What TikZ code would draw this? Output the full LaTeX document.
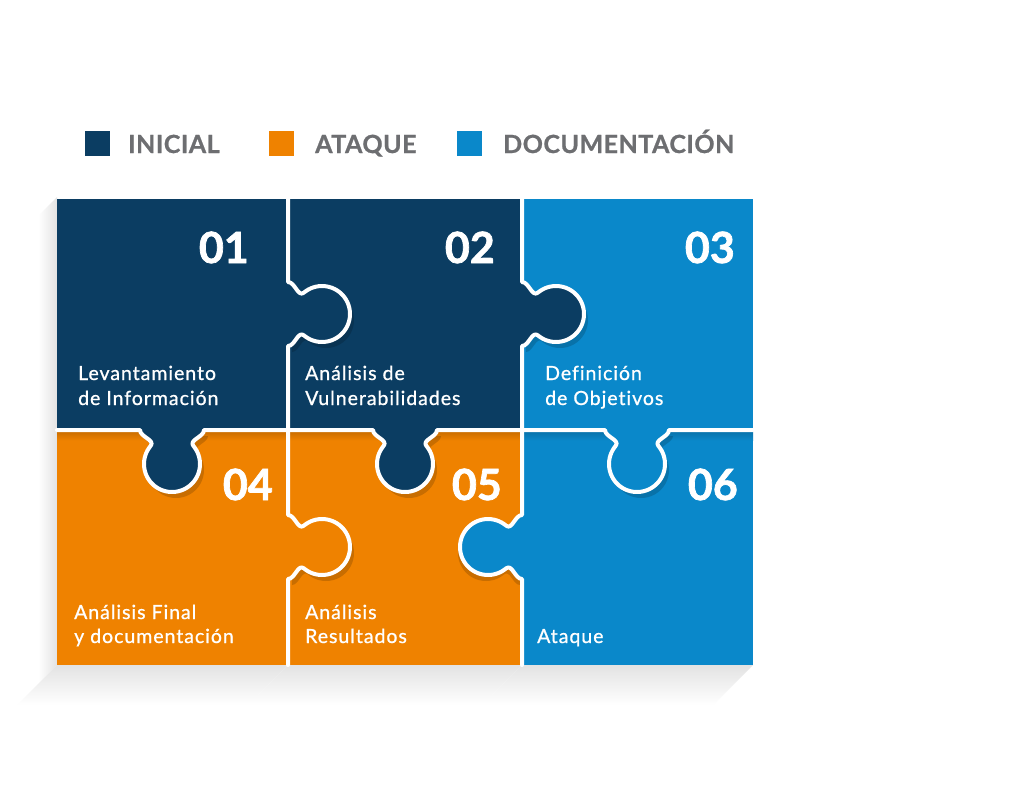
\documentclass[tikz,border=0pt]{standalone}
\usepackage{fontspec}
\setmainfont{Lato}
\newfontfamily\labfont{Lato}[FakeBold=0.9,LetterSpace=5,Ligatures={NoCommon,NoDiscretionary,NoRare}]
\newfontfamily\numfont{Lato}[BoldFeatures={FakeBold=1.6}]
\newfontfamily\legfont{Lato}[BoldFeatures={FakeBold=0.8,LetterSpace=2}]
\definecolor{navy}{HTML}{0B3D62}
\definecolor{orng}{HTML}{EF8200}
\definecolor{sky}{HTML}{0A88CA}
\definecolor{legendgray}{HTML}{6D6E71}
% knob on a vertical boundary x=#1, centred at y=#2, pointing right (#3=1) or left (#3=-1)
\newcommand\knobV[3]{-- ({#1},{#2-32}) .. controls ({#1+#3*7},{#2-32}) and ({#1+#3*10},{#2-16.3}) .. ({#1+#3*16},{#2-21.4}) -- plot[domain=-130:130,samples=48,variable=\t]({#1+#3*(34+28*cos(\t))},{#2+28*sin(\t)}) .. controls ({#1+#3*10},{#2+16.3}) and ({#1+#3*7},{#2+32}) .. ({#1},{#2+32})}
% knob on a horizontal boundary y=#1, centred at x=#2, pointing down (#3=1)
\newcommand\knobH[3]{-- ({#2-32},{#1}) .. controls ({#2-32},{#1+#3*7}) and ({#2-16.3},{#1+#3*10}) .. ({#2-21.4},{#1+#3*16}) -- plot[domain=-130:130,samples=48,variable=\t]({#2+28*sin(\t)},{#1+#3*(34+28*cos(\t))}) .. controls ({#2+16.3},{#1+#3*10}) and ({#2+32},{#1+#3*7}) .. ({#2+32},{#1})}
\begin{document}
\begin{tikzpicture}[x=1pt,y=-1pt,
  sep/.style={draw=white,line width=4pt,line join=round,line cap=round},
  knobshadow/.style={fill=black,fill opacity=0.16},
  numtext/.style={anchor=base east,text=white,font=\fontsize{43}{43}\numfont\bfseries,inner sep=0pt},
  labtext/.style={anchor=base west,text=white,font=\fontsize{19.5}{19.5}\labfont,inner sep=0pt},
  legsq/.style={minimum size=25pt,inner sep=0pt,outer sep=0pt},
  legtext/.style={anchor=base west,text=legendgray,font=\fontsize{25}{25}\legfont\bfseries,inner sep=0pt}]
\useasboundingbox[fill=white] (0,0) rectangle (1024,798);
% --- soft shadows
\shade[left color=white,right color=black!11] (38,216) -- (57,197) -- (57,665) -- (38,684) -- cycle;
\foreach \a/\b in {57/288,288/522,522/753}{
  \shade[top color=black!11,bottom color=white] (\a,665) -- (\b,665) -- (\b-40,705) -- (\a-40,705) -- cycle;
}
% --- cells
\fill[navy] (57,199) rectangle (288,430);
\fill[navy] (288,199) rectangle (522,430);
\fill[sky]  (522,199) rectangle (753,430);
\fill[orng] (57,440) rectangle (288,665);
\fill[orng] (288,440) rectangle (522,665);
\fill[sky]  (522,440) rectangle (753,665);
% --- shadow of the top row onto the bottom row
\shade[top color=orng!82!black,bottom color=orng] (57,430) rectangle (522,440.5);
\shade[top color=sky!82!black,bottom color=sky] (522,430) rectangle (753,440.5);
% --- knob shadows
\begin{scope}[shift={(4,6)}]
\fill[knobshadow] (288,282) \knobV{288}{314}{1} -- cycle;
\fill[knobshadow] (522,282) \knobV{522}{314}{1} -- cycle;
\fill[knobshadow] (288,515) \knobV{288}{547}{1} -- cycle;
\fill[knobshadow] (140,430) \knobH{430}{172}{1} -- cycle;
\fill[knobshadow] (373,430) \knobH{430}{405}{1} -- cycle;
\fill[knobshadow] (605,430) \knobH{430}{637}{1} -- cycle;
\end{scope}
\begin{scope}[shift={(-2,6)}]
\fill[knobshadow] (522,515) \knobV{522}{547}{-1} -- cycle;
\end{scope}
% --- knobs
\fill[navy] (288,282) \knobV{288}{314}{1} -- cycle;
\fill[navy] (522,282) \knobV{522}{314}{1} -- cycle;
\fill[orng] (288,515) \knobV{288}{547}{1} -- cycle;
\fill[sky]  (522,515) \knobV{522}{547}{-1} -- cycle;
\fill[navy] (140,430) \knobH{430}{172}{1} -- cycle;
\fill[navy] (373,430) \knobH{430}{405}{1} -- cycle;
\fill[sky]  (605,430) \knobH{430}{637}{1} -- cycle;
% --- separators
\path[sep] (57,430) \knobH{430}{172}{1} -- (288,430) \knobH{430}{405}{1} -- (522,430) \knobH{430}{637}{1} -- (753,430);
\path[sep] (288,199) \knobV{288}{314}{1} -- (288,430);
\path[sep] (522,199) \knobV{522}{314}{1} -- (522,430);
\path[sep] (288,430) \knobV{288}{547}{1} -- (288,665);
\path[sep] (522,430) \knobV{522}{547}{-1} -- (522,665);
% --- numbers
\node[numtext] (n1) at (249,263) {01};
\node[numtext] (n2) at (495,263) {02};
\node[numtext] (n3) at (735,263) {03};
\node[numtext] (n4) at (273,500) {04};
\node[numtext] (n5) at (502,500) {05};
\node[numtext] (n6) at (738,500) {06};
% --- labels
\node[labtext] (l1a) at (78,380) {Levantamiento};
\node[labtext] (l1b) at (78,405) {de Información};
\node[labtext] (l2a) at (305,380) {Análisis de};
\node[labtext] (l2b) at (305,405) {Vulnerabilidades};
\node[labtext] (l3a) at (545,380) {Definición};
\node[labtext] (l3b) at (545,405) {de Objetivos};
\node[labtext] (l4a) at (74,619) {Análisis Final};
\node[labtext] (l4b) at (74,643) {y documentación};
\node[labtext] (l5a) at (305,619) {Análisis};
\node[labtext] (l5b) at (305,643) {Resultados};
\node[labtext] (l6a) at (537,643) {Ataque};
% --- legend
\node[legsq,fill=navy] (s1) at (97.5,143.5) {};
\node[legtext] (t1) at (128,153) {INICIAL};
\node[legsq,fill=orng] (s2) at (281.5,143.5) {};
\node[legtext] (t2) at (315,153) {ATAQUE};
\node[legsq,fill=sky] (s3) at (469,143.5) {};
\node[legtext] (t3) at (503,153) {DOCUMENTACIÓN};
\end{tikzpicture}
\end{document}
